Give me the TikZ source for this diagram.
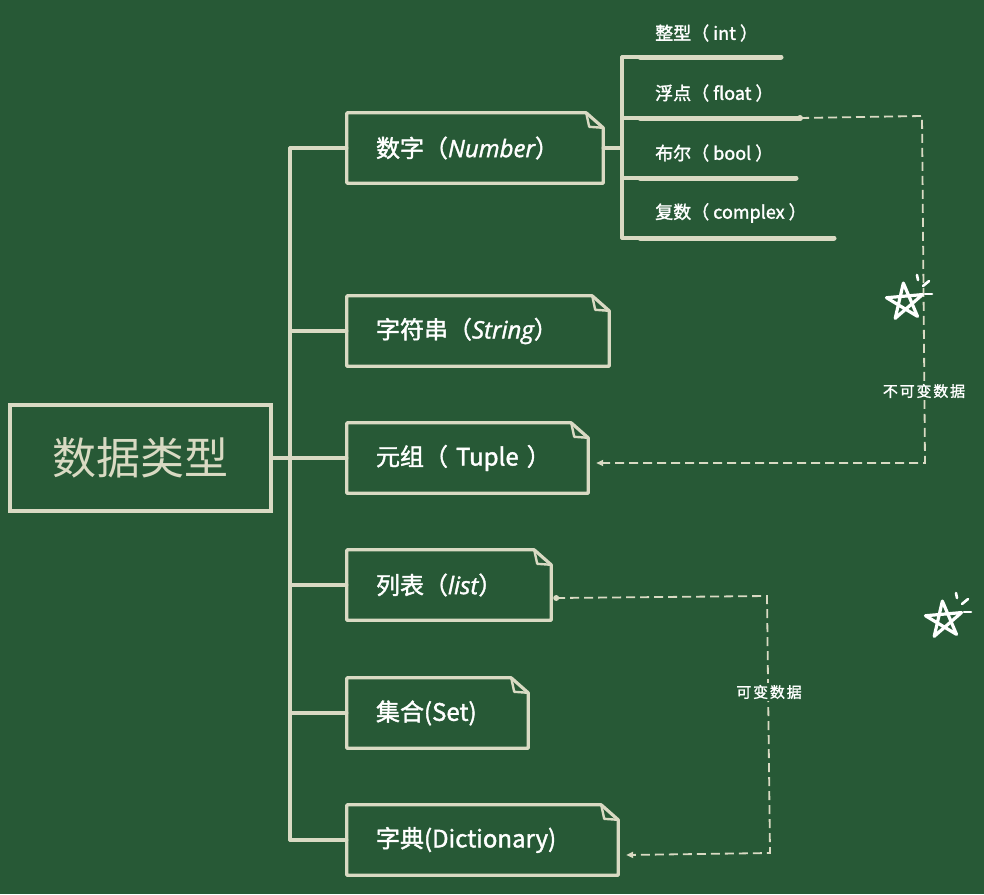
\documentclass[tikz,border=0pt]{standalone}
\usepackage{fontspec}
\setmainfont{Noto Sans CJK SC}
\newfontfamily\med{Noto Sans CJK SC}[FakeBold=1.6]
\newfontfamily\medsp{Noto Sans CJK SC}[FakeBold=1.4,LetterSpace=12]
\newfontfamily\latin{Open Sans}[FakeBold=1.6]
\usetikzlibrary{calc,arrows.meta}
\definecolor{bg}{HTML}{275936}
\definecolor{chalk}{HTML}{D9DAC3}
\newcommand\notepath[1]{%
  \draw[chalkline] (#1.north west) -- ($(#1.north east)+(-17,0)$) -- ($(#1.north east)+(0,15)$) -- (#1.south east) -- (#1.south west) -- cycle;
  \draw[chalkline,line width=2.4pt] ($(#1.north east)+(-17,0)$) -- ($(#1.north east)+(-14,14)$) -- ($(#1.north east)+(0,15)$);}
\newcommand\chalkstar[2]{%
  \begin{scope}[shift={(#1,#2)}]
    \draw[white,line width=3.2pt,line join=round,line cap=round]
      (-95:19) -- (49:19) -- (193:19) -- (-23:19) -- (121:19) -- cycle;
    \draw[white,line width=2.6pt,line cap=round] (12,-27) -- (13,-22);
    \draw[white,line width=2.6pt,line cap=round] (18,-16) -- (24,-21);
    \draw[white,line width=2.6pt,line cap=round] (20,-8) -- (27,-8);
  \end{scope}}
\begin{document}
\begin{tikzpicture}[x=1pt,y=-1pt,
  chalkline/.style={draw=chalk,line width=3.2pt,line cap=round,line join=round},
  underline/.style={draw=chalk,line width=5pt,line cap=round},
  dashline/.style={draw=chalk,line width=1.8pt,dash pattern=on 9pt off 5pt},
  notebox/.style={inner xsep=29pt,inner ysep=0pt,minimum height=70pt,align=left,text=white,font=\med\fontsize{24}{28}\selectfont},
  sublabel/.style={anchor=west,inner sep=0pt,text=white,font=\med\fontsize{18}{20}\selectfont},
  tag/.style={fill=bg,inner sep=2pt,text=white,font=\medsp\fontsize{15}{17}\selectfont}]
\fill[bg] (0,0) rectangle (984,894);
\useasboundingbox (0,0) rectangle (984,894);

% root
\node[draw=chalk,line width=3.2pt,minimum width=261pt,minimum height=106pt,text=chalk,font=\fontsize{44}{50}\selectfont] (root) at (140.5,458) {数据类型};

% boxes
\node[notebox,text width=198pt] (num) at (475,148) {数字（{\latin\itshape Number}）};
\node[notebox,text width=204pt] (str) at (478,331) {字符串（{\latin\itshape String}）};
\node[notebox,text width=183pt] (tup) at (467.5,458) {元组（ Tuple ）};
\node[notebox,text width=146pt] (lst) at (449,585) {列表（{\latin\itshape list}）};
\node[notebox,text width=123pt] (set) at (437.5,713) {集合(Set)};
\node[notebox,text width=213pt] (dic) at (482.5,840) {字典(Dictionary)};
\foreach \b in {num,str,tup,lst,set,dic} {\notepath{\b}}

% trunk
\coordinate (tR) at (290,458);
\coordinate (tN) at (290,148);
\coordinate (tS) at (290,331);
\coordinate (tL) at (290,585);
\coordinate (tE) at (290,713);
\coordinate (tD) at (290,840);
\draw[chalkline] (root.east) -- (tR);
\draw[chalkline] (tN) -- (tD);
\draw[chalkline] (tN) -- (num.west);
\draw[chalkline] (tS) -- (str.west);
\draw[chalkline] (tR) -- (tup.west);
\draw[chalkline] (tL) -- (lst.west);
\draw[chalkline] (tE) -- (set.west);
\draw[chalkline] (tD) -- (dic.west);

% number sub-types
\coordinate (hub) at (622,148);
\coordinate (h1) at (622,57);
\coordinate (h2) at (622,118);
\coordinate (h3) at (622,178);
\coordinate (h4) at (622,238);
\draw[chalkline] (num.east) -- (hub);
\draw[chalkline] (h1) -- (h4);
\node[sublabel] (int) at (655,33) {整型（ int ）};
\node[sublabel] (flt) at (655,93) {浮点（ float ）};
\node[sublabel] (bol) at (655,153) {布尔（ bool ）};
\node[sublabel] (cpx) at (655,213) {复数（ complex ）};
\coordinate (e1) at (781,57);
\coordinate (e2) at (800,118);
\coordinate (e3) at (796,178);
\coordinate (e4) at (834,238);
\foreach \i in {1,2,3,4} {
  \draw[chalkline] (h\i) -- ($(h\i)+(18,0)$);
  \draw[underline] ($(h\i)+(18,0)$) -- (e\i);
}

% immutable
\fill[chalk] (e2) circle (3pt);
\draw[dashline,-{Triangle[length=7pt,width=6pt]}] (e2) -- (922,116) -- (925,463) -- ($(tup.east)+(8,5)$);
\node[tag] (imm) at (924,391) {不可变数据};

% mutable
\coordinate (ls) at ($(lst.east)+(5,13)$);
\fill[chalk] (ls) circle (3pt);
\draw[dashline,-{Triangle[length=7pt,width=6pt]}] (ls) -- (767,596) -- (770,853) -- ($(dic.east)+(8,15)$);
\node[tag] (mut) at (769,692) {可变数据};

% stars
\chalkstar{905}{302}
\chalkstar{944}{620}
\end{tikzpicture}
\end{document}
